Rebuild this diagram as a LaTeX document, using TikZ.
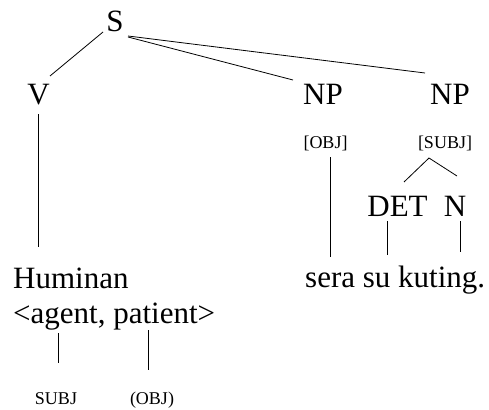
\documentclass[tikz,border=0pt]{standalone}
\usepackage{fontspec}
\setmainfont{Liberation Serif}
\usetikzlibrary{calc}
\begin{document}
\begin{tikzpicture}[x=1pt,y=-1pt,
  big/.style={inner sep=0pt,anchor=base,font=\fontsize{31}{37}\selectfont},
  bigw/.style={big,anchor=base west},
  small/.style={inner sep=0pt,anchor=base,font=\fontsize{18}{22}\selectfont},
  edge/.style={line width=0.8pt,black}]
\useasboundingbox (0,0) rectangle (489,409);
% nodes
\node[big] (S) at (115,32) {S};
\node[big] (V) at (38.5,105) {V};
\node[big] (NP1) at (323,105) {NP};
\node[big] (NP2) at (450,105) {NP};
\node[small] (obj) at (325.5,148) {[OBJ]};
\node[small] (subj) at (445,148) {[SUBJ]};
\node[big] (det) at (397.5,216) {DET};
\node[big] (n) at (455,216) {N};
\node[bigw] (Hum) at (13,288) {Huminan};
\node[bigw] (args) at (13,323) {<agent, patient>};
\node[bigw] (sera) at (305,287) {sera su kuting.};
\node[small] (subjl) at (56,404) {SUBJ};
\node[small] (objl) at (152,404) {(OBJ)};
% connectors
\draw[edge] ($(S.base)+(-12,0)$) -- ($(V.base)+(11.5,-29)$);
\draw[edge] ($(S.base)+(13,5)$) -- ($(NP1.base)+(-30,-25)$);
\draw[edge] ($(S.base)+(13,4)$) -- ($(NP2.base)+(-25,-32)$);
\draw[edge] ($(V.base)+(-0.5,9)$) -- ($(Hum.base west)+(25,-41)$);
\draw[edge] ($(obj.base)+(4.5,9)$) -- ($(sera.base west)+(25,-30)$);
\draw[edge] ($(det.base)+(6.5,-34)$) -- ($(subj.base)+(-16,10)$) -- ($(n.base)+(2,-40)$);
\draw[edge] ($(det.base)+(-10.5,5)$) -- ($(sera.base west)+(82,-32)$);
\draw[edge] ($(n.base)+(5,5)$) -- ($(sera.base west)+(155,-35)$);
\draw[edge] ($(args.base west)+(45,10)$) -- ($(subjl.base)+(2,-41)$);
\draw[edge] ($(args.base west)+(135,7)$) -- ($(objl.base)+(-4,-34)$);
\end{tikzpicture}
\end{document}
